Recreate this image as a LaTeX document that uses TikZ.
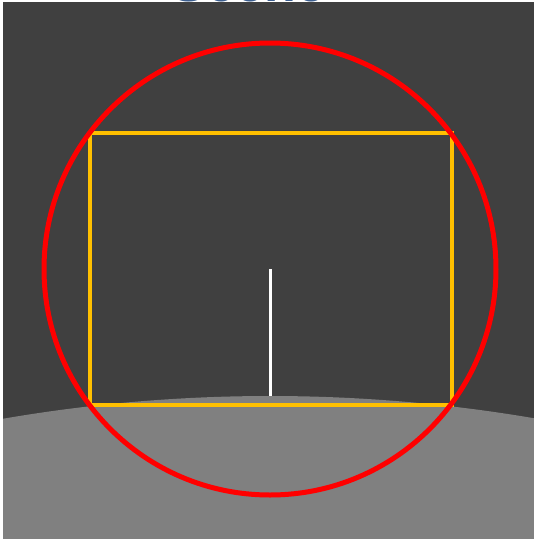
\documentclass[tikz,border=0pt]{standalone}
\usepackage{fontspec}
\setmainfont{Liberation Sans}
\definecolor{bgdark}{HTML}{404040}
\definecolor{ground}{HTML}{808080}
\definecolor{frameyel}{HTML}{FFC000}
\definecolor{titleblue}{HTML}{3D5F8F}
\tikzset{
  fov/.style={draw=red, line width=5pt},
  framebox/.style={draw=frameyel, line width=4.5pt},
  mast/.style={draw=white, line width=3pt},
}
\begin{document}
\begin{tikzpicture}[x=1pt,y=-1pt]
\useasboundingbox (0,0) rectangle (534,539);
\clip (0,0) rectangle (534,539);
\fill[white] (0,0) rectangle (534,539);
\fill[bgdark] (3,2) rectangle (534,539);
\node[anchor=base, text=titleblue, font=\bfseries\fontsize{52}{52}\selectfont, inner sep=0pt] (title) at (248.5,1) {Scene};
\begin{scope}
\clip (3,2) rectangle (534,539);
\fill[ground] (270,1957) circle[radius=1561];
\end{scope}
\coordinate (c) at (270,269);
\coordinate (top) at (270,396);
\draw[mast] (c) -- (top);
\draw[framebox] (90,133) rectangle (452,405);
\draw[fov] (c) circle[radius=226];
\end{tikzpicture}
\end{document}
